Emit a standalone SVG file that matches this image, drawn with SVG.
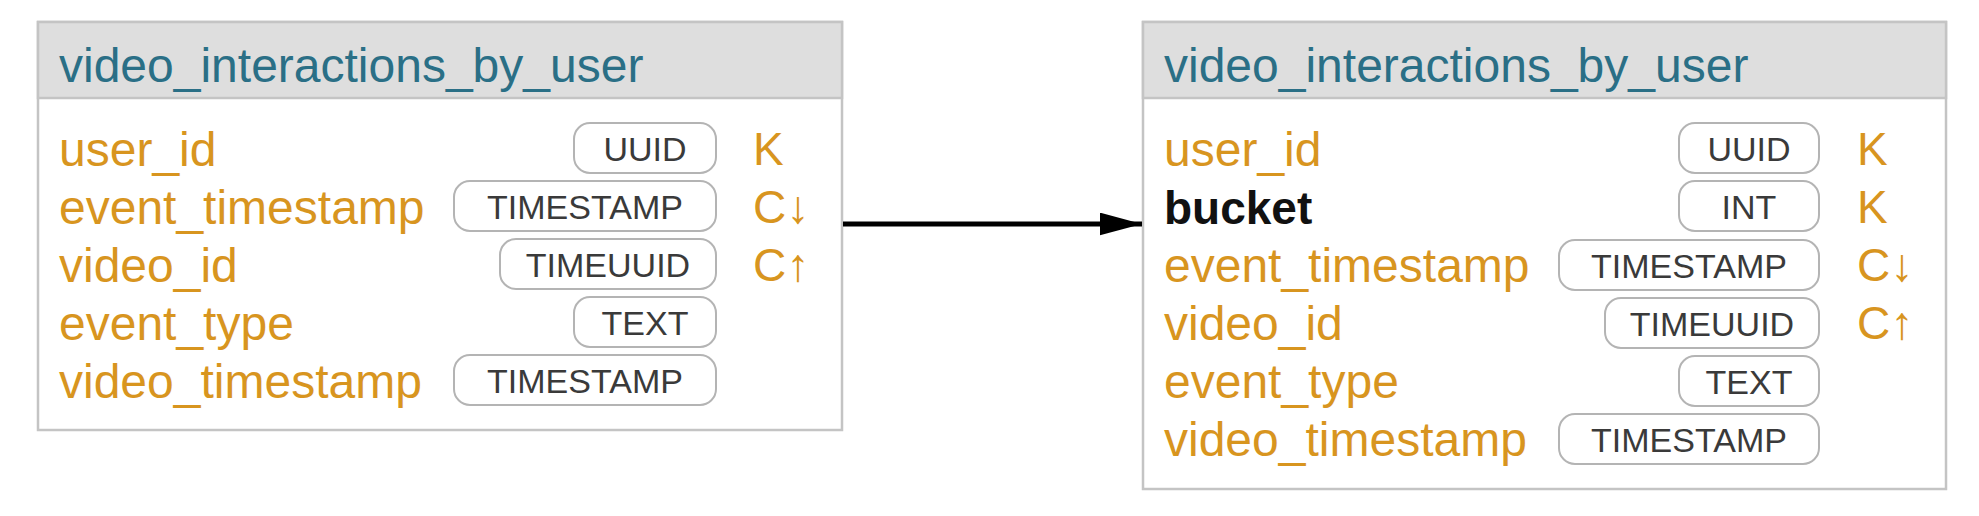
<svg xmlns="http://www.w3.org/2000/svg" width="1979" height="516" viewBox="0 0 1979 516">
<defs>
<style>
.box{fill:#ffffff;stroke:#c4c4c4;stroke-width:2.5}
.hdr{fill:#dedede;stroke:#c4c4c4;stroke-width:2.5}
.title{font-family:"Liberation Sans",Arial,sans-serif;font-size:48px;fill:#2a6f86}
.fld{font-family:"Liberation Sans",Arial,sans-serif;font-size:48px;fill:#d8951f}
.new{fill:#111111;font-weight:bold;font-size:46px}
.pill{fill:#ffffff;stroke:#b4b4b4;stroke-width:2}
.ty{font-family:"Liberation Sans",Arial,sans-serif;font-size:34px;fill:#3a3a3a;text-anchor:middle}
.key{font-family:"Liberation Sans",Arial,sans-serif;font-size:46px;fill:#d8951f}
</style>
<marker id="ah" viewBox="0 0 10 10" refX="10" refY="5" markerWidth="8.5" markerHeight="4.6" markerUnits="strokeWidth" orient="auto" preserveAspectRatio="none">
<path d="M0,0 L10,5 L0,10 Z" fill="#000"/>
</marker>
</defs>
<rect width="1979" height="516" fill="#ffffff"/>

<g id="table-left">
<rect class="box" x="38" y="22" width="804" height="408"/>
<rect class="hdr" x="38" y="22" width="804" height="76"/>
<text class="title" x="59" y="82">video_interactions_by_user</text>
<text class="fld" x="59" y="166">user_id</text>
<rect class="pill" x="574" y="123" width="142" height="50" rx="16"/>
<text class="ty" x="645" y="161">UUID</text>
<text class="key" x="753" y="165">K</text>
<text class="fld" x="59" y="224">event_timestamp</text>
<rect class="pill" x="454" y="181" width="262" height="50" rx="16"/>
<text class="ty" x="585" y="219">TIMESTAMP</text>
<text class="key" x="753" y="223">C↓</text>
<text class="fld" x="59" y="282">video_id</text>
<rect class="pill" x="500" y="239" width="216" height="50" rx="16"/>
<text class="ty" x="608" y="277">TIMEUUID</text>
<text class="key" x="753" y="281">C↑</text>
<text class="fld" x="59" y="340">event_type</text>
<rect class="pill" x="574" y="297" width="142" height="50" rx="16"/>
<text class="ty" x="645" y="335">TEXT</text>
<text class="fld" x="59" y="398">video_timestamp</text>
<rect class="pill" x="454" y="355" width="262" height="50" rx="16"/>
<text class="ty" x="585" y="393">TIMESTAMP</text>
</g>

<g id="table-right">
<rect class="box" x="1143" y="22" width="803" height="467"/>
<rect class="hdr" x="1143" y="22" width="803" height="76"/>
<text class="title" x="1164" y="82">video_interactions_by_user</text>
<text class="fld" x="1164" y="166">user_id</text>
<rect class="pill" x="1679" y="123" width="140" height="50" rx="16"/>
<text class="ty" x="1749" y="161">UUID</text>
<text class="key" x="1857" y="165">K</text>
<text class="fld new" x="1164" y="224">bucket</text>
<rect class="pill" x="1679" y="181" width="140" height="50" rx="16"/>
<text class="ty" x="1749" y="219">INT</text>
<text class="key" x="1857" y="223">K</text>
<text class="fld" x="1164" y="282">event_timestamp</text>
<rect class="pill" x="1559" y="240" width="260" height="50" rx="16"/>
<text class="ty" x="1689" y="278">TIMESTAMP</text>
<text class="key" x="1857" y="281">C↓</text>
<text class="fld" x="1164" y="340">video_id</text>
<rect class="pill" x="1605" y="298" width="214" height="50" rx="16"/>
<text class="ty" x="1712" y="336">TIMEUUID</text>
<text class="key" x="1857" y="339">C↑</text>
<text class="fld" x="1164" y="398">event_type</text>
<rect class="pill" x="1679" y="356" width="140" height="50" rx="16"/>
<text class="ty" x="1749" y="394">TEXT</text>
<text class="fld" x="1164" y="456">video_timestamp</text>
<rect class="pill" x="1559" y="414" width="260" height="50" rx="16"/>
<text class="ty" x="1689" y="452">TIMESTAMP</text>
</g>

<g id="connectors">
<line x1="843" y1="224" x2="1142" y2="224" stroke="#000" stroke-width="5" marker-end="url(#ah)"/>
</g>
</svg>
